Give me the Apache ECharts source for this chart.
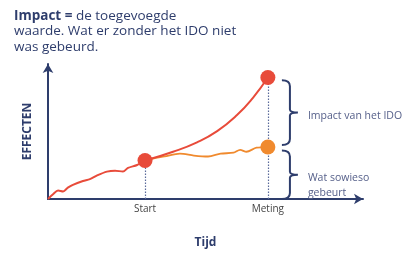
<!DOCTYPE html>
<html lang="nl">
    <head>
        <meta charset="UTF-8" />
        <title>Impact</title>
        <script src="https://cdn.jsdelivr.net/npm/echarts@6.0.0/dist/echarts.min.js"></script>
        <style>
            body,
            html {
                margin: 0;
                padding: 0;
                width: 100%;
                height: 100%;
                overflow: hidden;
                background-color: #fff;
            }
            #main {
                width: 408px;
                height: 254px;
            }
        </style>
    </head>
    <body>
        <div id="main"></div>
        <script>
            const navy = "#2e3d6c"
            const red = "#e84b3a"
            const orange = "#f08a2e"

            // red line: before start (wavy) and from start to meting (rising)
            const redBefore = [
                [0, 0], [1.6, 3.5], [3.2, 6.3], [4.8, 5.6], [6.3, 8.4], [7.9, 10.5], [11.1, 13.3],
                [13.3, 14.7], [15.6, 17.5], [18.7, 20.3], [21.3, 21], [23.8, 20.3], [25.4, 23],
                [28.3, 25.2], [30.8, 28.5],
            ]
            const redAfter = [
                [30.8, 28.5], [39.7, 35], [47.3, 42], [53.7, 50.3], [60, 62.2], [65, 74.8], [69.8, 90],
            ]
            // orange line: what happens anyway
            const orangeLine = [
                [30.8, 28.5], [33.3, 30], [37, 31.5], [41.9, 33.6], [46.3, 32.2], [50.8, 31.5],
                [54.8, 33.6], [58.9, 34.3], [61, 36.4], [63, 35], [66.2, 38], [69.8, 38.5],
            ]
            const startX = 30.8
            const metingX = 69.8
            const tickLabels = { 30.8: "Start", 69.8: "Meting" }
            // braces: x, top, bottom, label
            const braces = [
                [76.8, 88, 40, "Impact van het IDO"],
                [76.8, 36, 0, "Wat sowieso\ngebeurt"],
            ]

            const chart = echarts.init(document.getElementById("main"))

            function renderBrace(params, api) {
                const top = api.coord([api.value(0), api.value(1)])
                const bot = api.coord([api.value(0), api.value(2)])
                const x = top[0]
                const y0 = top[1]
                const y1 = bot[1]
                const ym = (y0 + y1) / 2
                const path =
                    `M${x - 8} ${y0} Q${x} ${y0} ${x} ${y0 + 6} L${x} ${ym - 3} Q${x} ${ym} ${x + 8} ${ym} ` +
                    `Q${x} ${ym} ${x} ${ym + 3} L${x} ${y1 - 6} Q${x} ${y1} ${x - 8} ${y1}`
                return {
                    type: "group",
                    children: [
                        {
                            type: "path",
                            shape: { pathData: path },
                            style: { fill: null, stroke: navy, lineWidth: 2 },
                        },
                        {
                            type: "text",
                            x: x + 18,
                            y: ym - 4,
                            style: {
                                text: braces[params.dataIndex][3],
                                fill: "#56608a",
                                font: "10.5px 'Open Sans'",
                                verticalAlign: "top",
                                lineHeight: 15,
                            },
                        },
                    ],
                }
            }

            const dotted = { color: "#5a6a9a", type: [1.5, 1.5], width: 1.2 }

            const option = {
                animation: false,
                title: {
                    text: "{b|Impact =} de toegevoegde\nwaarde. Wat er zonder het IDO niet\nwas gebeurd.",
                    left: 9,
                    top: 3,
                    textStyle: {
                        color: navy,
                        fontFamily: "Open Sans",
                        fontSize: 13.5,
                        fontWeight: "normal",
                        lineHeight: 15.5,
                        rich: { b: { fontWeight: "bold", fontSize: 13.5, color: navy, fontFamily: "Open Sans" } },
                    },
                },
                grid: { left: 48, right: 45, top: 64, bottom: 47 },
                xAxis: {
                    type: "value",
                    min: 0,
                    max: 100,
                    splitLine: { show: false },
                    axisLine: { lineStyle: { color: navy, width: 2 }, symbol: ["none", "arrow"], symbolSize: [8, 9] },
                    axisTick: { show: false },
                    axisLabel: {
                        customValues: [startX, metingX],
                        formatter: (v) => tickLabels[v] || "",
                        color: "#444",
                        fontFamily: "Open Sans",
                        fontSize: 10,
                        margin: 5,
                    },
                    name: "Tijd",
                    nameLocation: "middle",
                    nameGap: 38,
                    nameTextStyle: { color: navy, fontWeight: "bold", fontSize: 12, fontFamily: "Open Sans" },
                },
                yAxis: {
                    type: "value",
                    min: 0,
                    max: 100,
                    splitLine: { show: false },
                    axisLine: { show: true, lineStyle: { color: navy, width: 2 }, symbol: ["none", "arrow"], symbolSize: [8, 9] },
                    axisTick: { show: false },
                    axisLabel: { show: false },
                    name: "EFFECTEN",
                    nameLocation: "middle",
                    nameGap: 14,
                    nameTextStyle: { color: navy, fontWeight: "bold", fontSize: 12, fontFamily: "Open Sans" },
                },
                series: [
                    {
                        type: "line",
                        data: redBefore,
                        showSymbol: false,
                        smooth: 0.3,
                        lineStyle: { color: red, width: 2 },
                        markLine: {
                            silent: true,
                            symbol: "none",
                            label: { show: false },
                            lineStyle: dotted,
                            data: [
                                [{ coord: [startX, 0] }, { coord: [startX, 28.5] }],
                                [{ coord: [metingX, 0] }, { coord: [metingX, 90] }],
                            ],
                        },
                    },
                    {
                        type: "line",
                        data: orangeLine,
                        showSymbol: false,
                        smooth: 0.3,
                        lineStyle: { color: orange, width: 1.8 },
                    },
                    {
                        type: "line",
                        data: redAfter,
                        showSymbol: false,
                        smooth: true,
                        lineStyle: { color: red, width: 2 },
                    },
                    {
                        type: "scatter",
                        data: [
                            { value: [startX, 28.5], itemStyle: { color: red } },
                            { value: [metingX, 90], itemStyle: { color: red } },
                            { value: [metingX, 38.5], itemStyle: { color: orange } },
                        ],
                        symbolSize: 15,
                        itemStyle: { opacity: 1 },
                        z: 5,
                    },
                    {
                        type: "custom",
                        renderItem: renderBrace,
                        data: braces.map((b) => [b[0], b[1], b[2]]),
                        silent: true,
                    },
                ],
            }
            chart.setOption(option)
        </script>
    </body>
</html>
